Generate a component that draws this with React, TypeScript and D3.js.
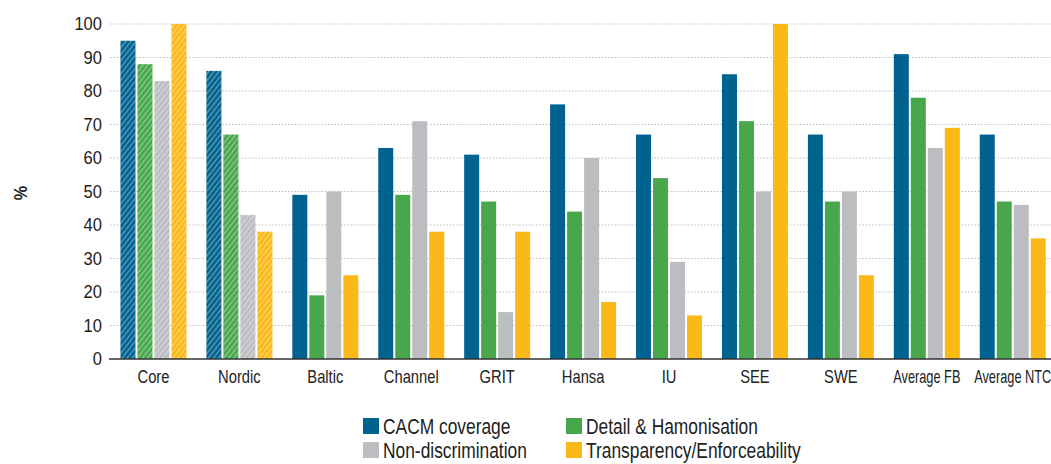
import React from "react";
import * as d3 from "d3";

const categories = ["Core", "Nordic", "Baltic", "Channel", "GRIT", "Hansa", "IU", "SEE", "SWE", "Average FB", "Average NTC"];
const seriesNames = ["CACM coverage", "Detail & Hamonisation", "Non-discrimination", "Transparency/Enforceability"];
const cacmCoverage = [95, 86, 49, 63, 61, 76, 67, 85, 67, 91, 67];
const detailHarmonisation = [88, 67, 19, 49, 47, 44, 54, 71, 47, 78, 47];
const nonDiscrimination = [83, 43, 50, 71, 14, 60, 29, 50, 50, 63, 46];
const transparency = [100, 38, 25, 38, 38, 17, 13, 100, 25, 69, 36];
const hatchedCategories = ["Core", "Nordic"];
const yTicks = [0, 10, 20, 30, 40, 50, 60, 70, 80, 90, 100];
const colors = ["#00628f", "#48a74a", "#bcbdc0", "#fbb918"];

const W = 1051;
const H = 464;
const FONT = "'Liberation Sans', Arial, sans-serif";

function NText(props: { x: number; y: number; sx: number; size: number; anchor?: string; dy?: string; children: React.ReactNode; weight?: string }) {
  return (
    <text
      transform={`translate(${props.x},${props.y}) scale(${props.sx},1)`}
      textAnchor={props.anchor || "start"}
      dy={props.dy}
      fontSize={props.size}
      fontWeight={props.weight}
      fill="#222"
    >
      {props.children}
    </text>
  );
}

export default function App() {
  const series = [cacmCoverage, detailHarmonisation, nonDiscrimination, transparency];
  const x = d3.scaleBand<string>().domain(categories).range([110.5, 1055.7]).padding(0);
  const inner = d3.scaleBand<string>().domain(seriesNames).range([0, 66]).paddingInner(2 / 17).paddingOuter(0);
  const y = d3.scaleLinear().domain([0, 100]).range([359, 24]);

  return (
    <svg width={W} height={H} style={{ position: "absolute", left: 0, top: 0, background: "#fff" }} fontFamily={FONT}>
      <defs>
        <pattern id="hatch" patternUnits="userSpaceOnUse" width="4" height="4" patternTransform="rotate(38)">
          <rect x="0" y="0" width="1.2" height="4" fill="#ffffff" fillOpacity="0.4" />
        </pattern>
      </defs>
      {yTicks.filter(t => t > 0).map(t => (
        <line key={"g" + t} x1={110} x2={W} y1={y(t)} y2={y(t)} stroke="#bdbdbd" strokeWidth={1} strokeDasharray="1.5,1.8" />
      ))}
      {categories.map((c, ci) => {
        const cx = (x(c) as number) + x.bandwidth() / 2 - 33;
        return (
          <g key={c}>
            {seriesNames.map((s, si) => {
              const v = series[si][ci];
              const bx = cx + (inner(s) as number);
              const bw = inner.bandwidth();
              return (
                <g key={s}>
                  <rect x={bx} y={y(v)} width={bw} height={y(0) - y(v)} fill={colors[si]} />
                  {hatchedCategories.includes(c) && (
                    <rect x={bx} y={y(v)} width={bw} height={y(0) - y(v)} fill="url(#hatch)" />
                  )}
                </g>
              );
            })}
          </g>
        );
      })}
      <line x1={109} x2={W} y1={y(0)} y2={y(0)} stroke="#333" strokeWidth={1.6} />
      {yTicks.map(t => (
        <NText key={"t" + t} x={102} y={y(t)} dy="0.36em" anchor="end" size={18} sx={0.92}>{t}</NText>
      ))}
      <text transform="translate(20,193) rotate(-90) scale(0.85,1)" textAnchor="middle" dy="0.35em" fontSize={19} fontWeight="bold" fill="#222">%</text>
      {categories.map(c => {
        const isAvg = c.startsWith("Average");
        return (
          <NText key={"x" + c} x={(x(c) as number) + x.bandwidth() / 2} y={383} anchor="middle" size={18} sx={isAvg ? 0.71 : 0.82}>{c}</NText>
        );
      })}
      {seriesNames.map((s, i) => {
        const col = i % 2;
        const row = Math.floor(i / 2);
        const lx = col === 0 ? 363 : 566;
        const ly = row === 0 ? 418 : 442;
        return (
          <g key={"l" + s}>
            <rect x={lx} y={ly} width={16} height={16} fill={colors[i]} />
            <NText x={lx + 20} y={ly + 16} size={22} sx={0.79}>{s}</NText>
          </g>
        );
      })}
    </svg>
  );
}
